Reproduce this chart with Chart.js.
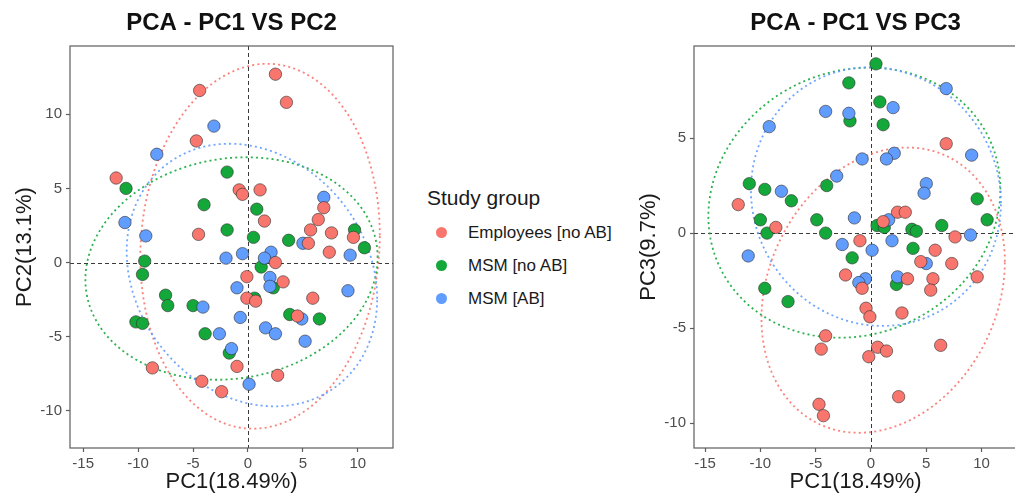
<!DOCTYPE html>
<html><head><meta charset="utf-8">
<script src="https://cdn.jsdelivr.net/npm/chart.js@4.4.1/dist/chart.umd.min.js"></script>
<style>
html,body{margin:0;padding:0;width:1015px;height:501px;overflow:hidden;background:#fff;font-family:"Liberation Sans",Arial,sans-serif;position:relative}
#c1{position:absolute;left:0;top:0}
#c2{position:absolute;left:624px;top:0}
#legend{position:absolute;left:427px;top:184px;color:#1a1a1a}
#legend .ttl{font-size:21px;line-height:28px;margin-bottom:4px}
#legend .it{font-size:17px;height:33px;line-height:33px;position:relative;padding-left:41px}
#legend .dot{position:absolute;left:9px;top:11px;width:11px;height:11px;border-radius:50%}
</style></head>
<body>
<canvas id="c1" width="400" height="501"></canvas>
<canvas id="c2" width="400" height="501"></canvas>
<div id="legend"></div>
<script>
// ---- data ----
const groups = ["Employees [no AB]", "MSM [no AB]", "MSM [AB]"];
const colors = ["#F8766D", "#14A83A", "#619CFF"];

const xTicks = [-15, -10, -5, 0, 5, 10];
const yTicks12 = [-10, -5, 0, 5, 10];
const yTicks13 = [-10, -5, 0, 5];

// PC1 vs PC2
const emp12 = [[-12.0,5.7],[-4.4,11.6],[2.5,12.7],[3.5,10.8],[-4.7,8.2],[-0.8,4.9],[-0.5,4.6],[1.1,4.9],[1.5,2.8],[-4.5,1.9],[6.9,3.7],[6.4,2.9],[5.7,2.2],[7.6,2.0],[5.5,1.3],[9.6,1.7],[7.4,0.7],[2.5,0.0],[-0.1,-0.95],[3.2,-1.3],[-0.1,-2.4],[0.7,-2.6],[5.9,-2.4],[4.5,-3.6],[-1.0,-7.0],[2.7,-7.6],[-4.2,-8.0],[-2.4,-8.7],[-8.7,-7.1]];
const msmNo12 = [[-11.1,5.0],[-9.4,0.1],[-9.6,-0.8],[-7.5,-2.2],[-7.3,-2.9],[-10.2,-4.0],[-9.6,-4.1],[-5.0,-2.9],[-1.9,6.1],[-4.0,3.9],[0.8,3.6],[-1.9,2.2],[0.5,1.7],[3.7,1.5],[9.7,2.2],[10.6,1.0],[1.2,-0.3],[2.3,-1.7],[0.6,-2.4],[-3.9,-4.8],[-1.7,-6.1],[3.8,-3.5],[6.5,-3.8]];
const msmAb12 = [[-8.3,7.3],[-11.2,2.7],[-9.3,1.8],[-3.1,9.2],[6.9,4.4],[5.0,1.3],[9.3,0.5],[-0.5,0.6],[-2.0,0.3],[2.1,0.7],[1.5,0.3],[-1.0,-1.7],[2.0,-1.0],[2.0,-1.6],[-4.1,-3.0],[-0.7,-3.7],[1.6,-4.4],[2.5,-4.8],[-2.6,-4.8],[-1.5,-5.8],[4.9,-3.8],[5.2,-5.3],[9.1,-1.9],[0.1,-8.2]];

// PC1 vs PC3
const emp13 = [[-12.0,1.5],[-8.6,0.3],[-4.1,-5.4],[-4.5,-6.1],[-4.7,-9.0],[-4.3,-9.6],[6.8,4.7],[2.4,1.1],[3.1,1.1],[1.1,0.6],[7.6,-0.2],[-1.0,-0.4],[5.8,-0.9],[4.5,-1.5],[7.3,-1.6],[-2.3,-2.2],[-0.8,-2.9],[3.3,-2.4],[5.6,-2.4],[5.4,-3.0],[9.6,-2.3],[-0.45,-3.95],[-0.1,-4.4],[2.8,-4.2],[0.6,-6.0],[1.4,-6.2],[-0.2,-6.5],[6.3,-5.9],[2.5,-8.6]];
const msmNo13 = [[-11.0,2.6],[-9.6,2.3],[-7.2,1.7],[-10.0,0.7],[-9.4,0.0],[-4.9,0.7],[-4.1,0.0],[-9.6,-2.9],[-7.5,-3.6],[0.45,8.9],[-2.0,7.9],[-1.9,5.9],[0.8,6.9],[1.1,5.7],[-4.0,2.5],[9.6,1.8],[0.55,0.4],[1.2,0.3],[3.7,0.2],[4.1,0.1],[6.4,0.4],[10.5,0.7],[3.8,-0.8],[-1.7,-1.3],[2.3,-2.7]];
const msmAb13 = [[-9.2,5.6],[-4.1,6.4],[-8.1,2.2],[-11.1,-1.2],[6.8,7.6],[-2.0,6.3],[2.0,6.6],[9.1,4.1],[2.1,4.2],[1.4,3.9],[-0.8,3.9],[-3.1,3.0],[5.0,2.6],[4.8,2.1],[-1.5,0.8],[1.6,0.7],[9.0,-0.1],[-2.6,-0.6],[1.9,-0.4],[0.1,-0.9],[5.0,-1.6],[-0.5,-2.4],[-1.1,-2.6],[2.4,-2.3]];

// ellipse parameters: [centerX, centerY, halfWidthX, halfHeightY, correlation]
const ellEmp12 = [1.1, 1.1, 10.9, 12.3, 0.06];
const ellMsmNo12 = [-1.5, -0.4, 13.3, 7.5, 0.10];
const ellMsmAb12 = [0.36, -0.84, 11.4, 8.85, -0.18];
const ellEmp13 = [1.1, -3.0, 11.0, 7.5, 0.20];
const ellMsmNo13 = [-1.5, 1.6, 13.2, 7.1, 0.10];
const ellMsmAb13 = [0.45, 1.92, 11.3, 6.8, -0.05];

// ---- drawing ----
const FONT = "'Liberation Sans', Arial, sans-serif";

const panelPlugin = {
  id: 'panel',
  beforeDatasetsDraw(chart, args, opts) {
    const {ctx, chartArea: a, scales: {x, y}} = chart;
    ctx.save();
    // zero reference lines
    ctx.strokeStyle = '#3a3a3a';
    ctx.lineWidth = 1;
    ctx.setLineDash([4, 3]);
    const x0 = Math.round(x.getPixelForValue(0)) + 0.5;
    const y0 = Math.round(y.getPixelForValue(0)) + 0.5;
    ctx.beginPath(); ctx.moveTo(x0, a.top); ctx.lineTo(x0, a.bottom); ctx.stroke();
    ctx.beginPath(); ctx.moveTo(a.left, y0); ctx.lineTo(a.right, y0); ctx.stroke();
    // ellipses
    ctx.lineWidth = 1.8;
    ctx.setLineDash([2, 3.2]);
    opts.ellipses.forEach((e, k) => {
      const [cx, cy, rx, ry, rho] = e;
      const s = Math.sqrt(1 - rho * rho);
      ctx.strokeStyle = colors[k];
      ctx.globalAlpha = 0.9;
      ctx.beginPath();
      const N = 240;
      for (let i = 0; i <= N; i++) {
        const t = i / N * Math.PI * 2;
        const vx = cx + rx * Math.cos(t);
        const vy = cy + ry * (rho * Math.cos(t) + s * Math.sin(t));
        const px = x.getPixelForValue(vx), py = y.getPixelForValue(vy);
        if (i === 0) ctx.moveTo(px, py); else ctx.lineTo(px, py);
      }
      ctx.stroke();
    });
    ctx.globalAlpha = 1;
    ctx.setLineDash([]);
    // panel box
    ctx.strokeStyle = '#5e5e5e';
    ctx.lineWidth = 1.2;
    ctx.strokeRect(a.left, a.top, a.right - a.left, a.bottom - a.top);
    ctx.restore();
  },
  afterDraw(chart, args, opts) {
    const {ctx, chartArea: a} = chart;
    ctx.save();
    ctx.fillStyle = '#111';
    ctx.font = "bold 24px " + FONT;
    ctx.textAlign = 'center';
    ctx.textBaseline = 'middle';
    ctx.fillText(opts.title, (a.left + a.right) / 2, 23);
    ctx.restore();
  }
};

function makeChart(id, title, yTitle, sets, ells, yTicks, xr, yr) {
  const order = [0, 2, 1]; // red on top, then blue, then green
  const datasets = order.map(k => ({
    label: groups[k],
    data: sets[k].map(p => ({x: p[0], y: p[1]})),
    backgroundColor: colors[k],
    borderColor: 'rgba(45,45,45,0.85)',
    borderWidth: 0.7,
    pointRadius: 6.2,
    pointHoverRadius: 6.2
  }));
  return new Chart(document.getElementById(id), {
    type: 'scatter',
    data: {datasets},
    options: {
      responsive: false,
      animation: false,
      layout: {padding: {left: 0, right: 7, top: 46, bottom: 0}},
      plugins: {
        legend: {display: false},
        tooltip: {enabled: false},
        title: {display: false},
        panel: {ellipses: ells, title: title}
      },
      scales: {
        x: {
          type: 'linear', min: xr[0], max: xr[1],
          afterBuildTicks: s => { s.ticks = xTicks.map(v => ({value: v})); },
          afterFit: s => { s.height = 53; },
          grid: {display: true, drawOnChartArea: false, drawTicks: true, tickLength: 4, tickColor: '#5e5e5e', tickWidth: 1.2},
          border: {display: false},
          ticks: {color: '#4d4d4d', font: {family: FONT, size: 15}, padding: 3, maxRotation: 0},
          title: {display: true, text: 'PC1(18.49%)', color: '#1a1a1a', font: {family: FONT, size: 22}, padding: {top: 0, bottom: 6}}
        },
        y: {
          type: 'linear', min: yr[0], max: yr[1],
          afterBuildTicks: s => { s.ticks = yTicks.map(v => ({value: v})); },
          afterFit: s => { s.width = 70; },
          grid: {display: true, drawOnChartArea: false, drawTicks: true, tickLength: 4, tickColor: '#5e5e5e', tickWidth: 1.2},
          border: {display: false},
          ticks: {color: '#4d4d4d', font: {family: FONT, size: 15}, padding: 4},
          title: {display: true, text: yTitle, color: '#1a1a1a', font: {family: FONT, size: 22}, padding: {top: 12, bottom: 0}}
        }
      }
    },
    plugins: [panelPlugin]
  });
}

makeChart('c1', 'PCA - PC1 VS PC2', 'PC2(13.1%)', [emp12, msmNo12, msmAb12], [ellEmp12, ellMsmNo12, ellMsmAb12], yTicks12, [-16.2, 13.2], [-12.5, 14.6]);
makeChart('c2', 'PCA - PC1 VS PC3', 'PC3(9.7%)', [emp13, msmNo13, msmAb13], [ellEmp13, ellMsmNo13, ellMsmAb13], yTicks13, [-16.0, 13.2], [-11.3, 9.84]);

// legend
const lg = document.getElementById('legend');
let html = '<div class="ttl">Study group</div>';
groups.forEach((g, k) => {
  html += '<div class="it"><span class="dot" style="background:' + colors[k] + '"></span>' + g + '</div>';
});
lg.innerHTML = html;
</script>
</body></html>
